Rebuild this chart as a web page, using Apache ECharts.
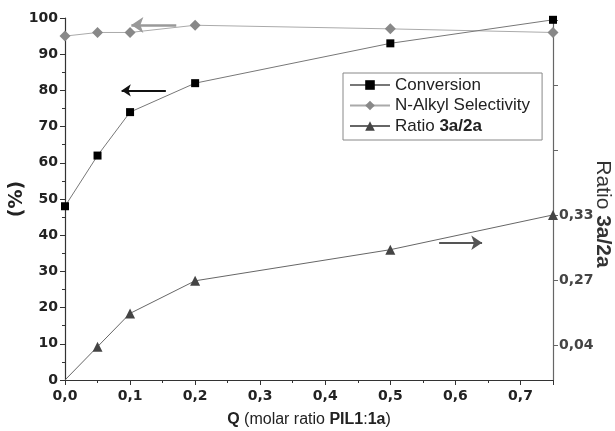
<!DOCTYPE html>
<html>
<head>
<meta charset="utf-8">
<script src="https://cdn.jsdelivr.net/npm/echarts@6/dist/echarts.min.js"></script>
<style>
  html, body { margin: 0; padding: 0; background: #fff; }
  #chart { width: 615px; height: 431px; }
</style>
</head>
<body>
<div id="chart"></div>
<script>
// Q values (molar ratio PIL1:1a)
const qValues = [0, 0.05, 0.1, 0.2, 0.5, 0.75];
const conversion = [48, 62, 74, 82, 93, 99.5];
const selectivity = [95, 96, 96, 98, 97, 96];
// ratio plotted against the same 0-100 scale as on the original figure
const ratio = [0, 9.2, 18.4, 27.4, 36, 45.6];

// right axis: tick positions (on the left scale) and their printed labels
const rightTickValues = [9.5, 27.5, 45.5, 63.5, 81.5, 99.5];
const rightTickLabels = ['0,04', '0,27', '0,33'];

const pair = (xs, ys) => xs.map((x, i) => [x, ys[i]]);
const font = 'Liberation Sans, Arial, sans-serif';
const tickFont = 'DejaVu Sans, sans-serif';

const chart = echarts.init(document.getElementById('chart'));

const arrow = (from, to, color, width) => ({
  silent: true,
  symbol: ['none', 'arrow'],
  symbolSize: [width * 4 + 2, width * 4 + 2],
  label: { show: false },
  emphasis: { disabled: true },
  lineStyle: { color: color, width: width, type: 'solid' },
  data: [[{ coord: from }, { coord: to }]]
});

// the ratio curve starts at the origin without a marker
const ratioData = pair(qValues, ratio).map((p, i) =>
  i === 0 ? { value: p, symbol: 'none' } : p
);

chart.setOption({
  animation: false,
  textStyle: { fontFamily: font },
  grid: { left: 65, right: 62, top: 18, bottom: 51, containLabel: false, outerBoundsMode: 'none' },
  legend: {
    orient: 'vertical',
    left: 343,
    top: 73,
    width: 199,
    padding: [3, 12, 5, 6],
    itemWidth: 40,
    itemHeight: 12,
    itemGap: 2.5,
    borderColor: '#888',
    borderWidth: 1,
    backgroundColor: '#fff',
    textStyle: {
      fontSize: 17,
      lineHeight: 18,
      color: '#222',
      fontFamily: font,
      rich: { b: { fontSize: 17, lineHeight: 18, fontWeight: 'bold', color: '#222', fontFamily: font } }
    },
    formatter: (name) => name === 'Ratio 3a/2a' ? 'Ratio {b|3a/2a}' : name,
    data: ['Conversion', 'N-Alkyl Selectivity', 'Ratio 3a/2a']
  },
  xAxis: {
    type: 'value',
    min: 0,
    max: 0.75,
    interval: 0.1,
    name: '{b|Q} (molar ratio {b|PIL1}:{b|1a})',
    nameLocation: 'middle',
    nameGap: 32,
    nameMoveOverlap: false,
    nameTextStyle: {
      fontSize: 16,
      color: '#222',
      rich: { b: { fontSize: 16, fontWeight: 'bold', color: '#222' } }
    },
    axisLine: { lineStyle: { color: '#333', width: 1.2 } },
    axisTick: { inside: false, length: 5, lineStyle: { color: '#333' } },
    minorTick: { show: true, splitNumber: 2, length: 3, lineStyle: { color: '#333' } },
    splitLine: { show: false },
    axisLabel: {
      fontSize: 14,
      fontWeight: 'bold',
      fontFamily: tickFont,
      color: '#222',
      margin: 9,
      showMaxLabel: false,
      formatter: (v) => v.toFixed(1).replace('.', ',')
    }
  },
  yAxis: [
    {
      type: 'value',
      min: 0,
      max: 100,
      interval: 10,
      position: 'left',
      name: '(%)',
      nameLocation: 'middle',
      nameRotate: 90,
      nameGap: 38,
      nameMoveOverlap: false,
      nameTextStyle: { fontSize: 19, fontWeight: 'bold', color: '#222', fontFamily: tickFont },
      axisLine: { show: true, lineStyle: { color: '#333', width: 1.2 } },
      axisTick: { show: true, length: 5, lineStyle: { color: '#333' } },
      minorTick: { show: true, splitNumber: 2, length: 3, lineStyle: { color: '#333' } },
      splitLine: { show: false },
      axisLabel: { fontSize: 14, fontWeight: 'bold', fontFamily: tickFont, color: '#222', margin: 7 }
    },
    {
      type: 'value',
      min: 0,
      max: 100,
      position: 'right',
      name: '{n|Ratio }{b|3a/2a}',
      nameLocation: 'middle',
      nameRotate: -90,
      nameGap: 39,
      nameMoveOverlap: false,
      nameTextStyle: {
        padding: [0, 0, 0, 30],
        rich: {
          n: { fontSize: 21, color: '#333' },
          b: { fontSize: 21, fontWeight: 'bold', color: '#333' }
        }
      },
      axisLine: { show: true, lineStyle: { color: '#666', width: 1.2 } },
      axisTick: { show: true, length: 5, customValues: rightTickValues, lineStyle: { color: '#666' } },
      splitLine: { show: false },
      axisLabel: {
        fontSize: 14,
        fontWeight: 'bold',
        fontFamily: tickFont,
        color: '#444',
        margin: 6,
        customValues: rightTickValues.slice(0, rightTickLabels.length),
        formatter: (v) => rightTickLabels[rightTickValues.indexOf(v)] || ''
      }
    }
  ],
  series: [
    {
      name: 'Conversion',
      type: 'line',
      data: pair(qValues, conversion),
      symbol: 'rect',
      symbolSize: 8,
      itemStyle: { color: '#000' },
      lineStyle: { color: '#777', width: 1 },
      z: 3,
      markLine: arrow([0.155, 80], [0.087, 80], '#111', 1.8)
    },
    {
      name: 'N-Alkyl Selectivity',
      type: 'line',
      data: pair(qValues, selectivity),
      symbol: 'diamond',
      symbolSize: 11,
      itemStyle: { color: '#888' },
      lineStyle: { color: '#aaa', width: 1 },
      z: 2,
      markLine: arrow([0.171, 98.1], [0.102, 98.1], '#999', 2.5)
    },
    {
      name: 'Ratio 3a/2a',
      type: 'line',
      yAxisIndex: 1,
      data: ratioData,
      symbol: 'triangle',
      symbolSize: 10,
      itemStyle: { color: '#444' },
      lineStyle: { color: '#666', width: 1 },
      z: 2,
      markLine: arrow([0.575, 37.9], [0.641, 37.9], '#555', 2.2)
    }
  ]
});
</script>
</body>
</html>
